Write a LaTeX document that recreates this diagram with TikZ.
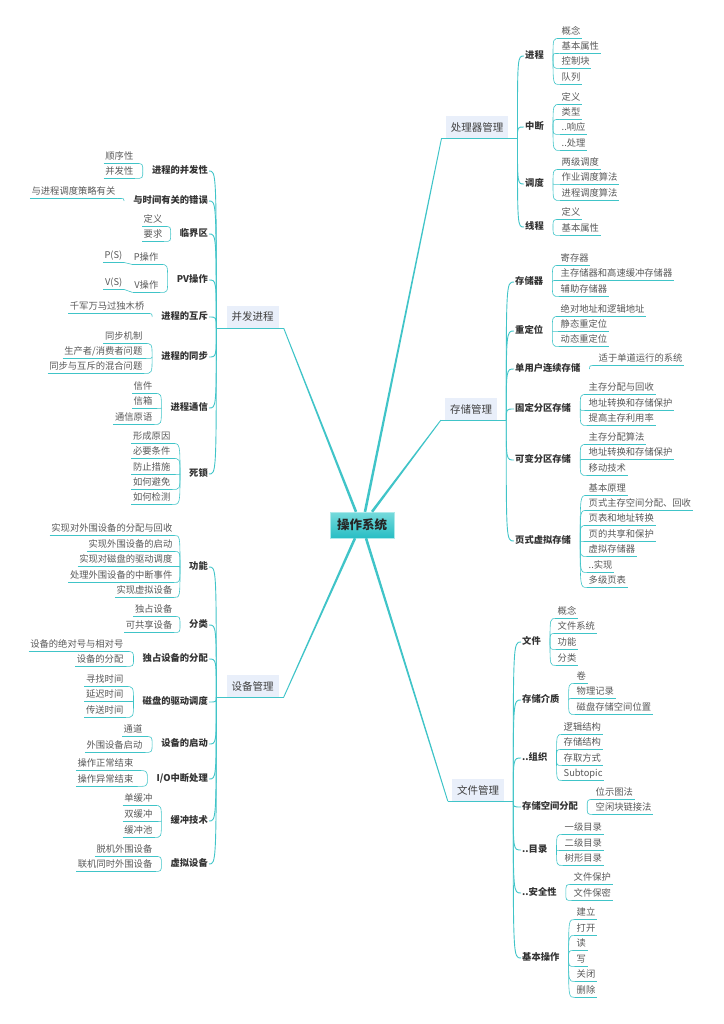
\documentclass[tikz,border=0pt]{standalone}
\usepackage{fontspec}
\setmainfont{Noto Sans CJK SC}
\usetikzlibrary{calc}

\definecolor{mapline}{RGB}{64,196,200}
\definecolor{mainfill}{RGB}{233,239,250}
\definecolor{osTop}{RGB}{118,218,220}
\definecolor{osBot}{RGB}{40,190,196}
\definecolor{leafgray}{RGB}{88,88,88}

% leaves hanging off a subtopic, right hand side and left hand side
\newcommand\rleaves[3]{%
  \coordinate (#1-j) at ($(#1.east)+(8,0)$);
  \foreach \txt/\y [count=\i] in {#3}{%
    \node[leaf,anchor=west] (#1-\i) at (#2,\y) {\txt};
    \draw[twig] (#1-j) .. controls (#1-j |- #1-\i.south west) .. (#1-\i.south west);
  }}
\newcommand\lleaves[3]{%
  \coordinate (#1-j) at ($(#1.west)+(-8,0)$);
  \foreach \txt/\y [count=\i] in {#3}{%
    \node[leaf,anchor=east] (#1-\i) at (#2,\y) {\txt};
    \draw[twig] (#1-j) .. controls (#1-j |- #1-\i.south east) .. (#1-\i.south east);
  }}
% tapered line from the root
\newcommand\taper[2]{%
  \fill[mapline] ($(#1)!1.3pt!90:(#2)$) -- ($(#2)!0.45pt!-90:(#1)$)
    -- ($(#2)!0.45pt!90:(#1)$) -- ($(#1)!1.3pt!-90:(#2)$) -- cycle;}

\begin{document}
\begin{tikzpicture}[x=1pt,y=-1pt,
  branch/.style={draw=mapline,line width=0.9pt},
  twig/.style={draw=mapline,line width=0.6pt},
  leaf/.style={font=\fontsize{9.3}{11}\selectfont,text=leafgray,inner xsep=1.5pt,inner ysep=1.5pt,
    text height=7.6pt,text depth=1.9pt,
    append after command={(\tikzlastnode.south west) edge[twig] (\tikzlastnode.south east)}},
  subtopic/.style={font=\bfseries\fontsize{9.3}{11}\selectfont,text=black!80,inner sep=1pt,
    text height=7.6pt,text depth=1.9pt},
  maintopic/.style={fill=mainfill,font=\fontsize{10.5}{12}\selectfont,text=black!75,
    inner xsep=5pt,inner ysep=0pt,minimum height=22pt},
  root/.style={top color=osTop,bottom color=osBot,draw=osTop!60!white,
    font=\bfseries\fontsize{12.5}{14}\selectfont,text=black!85,minimum width=64pt,minimum height=26pt}]
  \useasboundingbox (0,0) rectangle (723,1024);

  % main topics
  \node[root] (os) at (362,525) {操作系统};
  \node[maintopic] (cpu) at (477,127) {处理器管理};
  \node[maintopic] (mem) at (471,409) {存储管理};
  \node[maintopic] (file) at (478,790) {文件管理};
  \node[maintopic] (bf) at (252.5,317) {并发进程};
  \node[maintopic] (dev) at (252.5,686) {设备管理};
  \foreach \n in {cpu,mem,file}{
    \coordinate (\n-l) at ($(\n.south west)+(-4,0)$);
    \coordinate (\n-r) at ($(\n.south east)+(9,0)$);
    \draw[branch] (\n-l) -- (\n-r);
  }
  \foreach \n in {bf,dev}{
    \coordinate (\n-l) at ($(\n.south west)+(-10,0)$);
    \coordinate (\n-r) at ($(\n.south east)+(5,0)$);
    \draw[branch] (\n-l) -- (\n-r);
  }
  \coordinate (os-bf) at ($(os.north)+(-6,0)$);
  \coordinate (os-cpu) at ($(os.north)+(3,0)$);
  \coordinate (os-mem) at ($(os.north)+(10,0)$);
  \coordinate (os-dev) at ($(os.south)+(-7,0)$);
  \coordinate (os-file) at ($(os.south)+(4,0)$);
  \taper{os-bf}{bf-r}
  \taper{os-cpu}{cpu-l}
  \taper{os-mem}{mem-l}
  \taper{os-dev}{dev-r}
  \taper{os-file}{file-l}

  % processor
  \node[subtopic,anchor=west] (jc) at (524,56) {进程};
  \node[subtopic,anchor=west] (zd) at (524,127) {中断};
  \node[subtopic,anchor=west] (dd) at (524,184) {调度};
  \node[subtopic,anchor=west] (xc) at (524,227) {线程};
  \foreach \n in {jc,zd,dd,xc}
    \draw[branch] (cpu-r) .. controls (cpu-r |- \n.west) .. (\n.west);
  \rleaves{jc}{560}{概念/32,基本属性/47,控制块/62,队列/78}
  \rleaves{zd}{560}{定义/98,类型/113,..响应/128,..处理/144}
  \rleaves{dd}{560}{两级调度/163,作业调度算法/178,进程调度算法/194}
  \rleaves{xc}{560}{定义/213,基本属性/229}

  % memory
  \node[subtopic,anchor=west] (ccq) at (514,282) {存储器};
  \node[subtopic,anchor=west] (cdw) at (514,331) {重定位};
  \node[subtopic,anchor=west] (dyh) at (514,369) {单用户连续存储};
  \node[subtopic,anchor=west] (gdf) at (514,409) {固定分区存储};
  \node[subtopic,anchor=west] (kbf) at (514,460) {可变分区存储};
  \node[subtopic,anchor=west] (ysx) at (514,541) {页式虚拟存储};
  \foreach \n in {ccq,cdw,dyh,gdf,kbf,ysx}
    \draw[branch] (mem-r) .. controls (mem-r |- \n.west) .. (\n.west);
  \rleaves{ccq}{559}{寄存器/259,主存储器和高速缓冲存储器/274,辅助存储器/290}
  \rleaves{cdw}{559}{绝对地址和逻辑地址/310,静态重定位/325,动态重定位/340}
  \rleaves{dyh}{597}{适于单道运行的系统/359}
  \rleaves{gdf}{587}{主存分配与回收/388,地址转换和存储保护/404,提高主存利用率/419}
  \rleaves{kbf}{587}{主存分配算法/438,地址转换和存储保护/453,移动技术/469}
  \rleaves{ysx}{587}{基本原理/489,页式主存空间分配、回收/504,页表和地址转换/519,页的共享和保护/535,虚拟存储器/550,..实现/566,多级页表/581}

  % files
  \node[subtopic,anchor=west] (wj) at (521,642) {文件};
  \node[subtopic,anchor=west] (jz) at (521,700) {存储介质};
  \node[subtopic,anchor=west] (zz) at (521,758) {..组织};
  \node[subtopic,anchor=west] (fp) at (521,807) {存储空间分配};
  \node[subtopic,anchor=west] (ml) at (521,850) {..目录};
  \node[subtopic,anchor=west] (aq) at (521,893) {..安全性};
  \node[subtopic,anchor=west] (cz) at (521,958) {基本操作};
  \foreach \n in {wj,jz,zz,fp,ml,aq,cz}
    \draw[branch] (file-r) .. controls (file-r |- \n.west) .. (\n.west);
  \rleaves{wj}{556}{概念/612,文件系统/627,功能/643,分类/659}
  \rleaves{jz}{575}{卷/677,物理记录/692,磁盘存储空间位置/708}
  \rleaves{zz}{562}{逻辑结构/728,存储结构/743,存取方式/759,Subtopic/774}
  \rleaves{fp}{594}{位示图法/793,空闲块链接法/808}
  \rleaves{ml}{563}{一级目录/828,二级目录/844,树形目录/859}
  \rleaves{aq}{572}{文件保护/878,文件保密/894}
  \rleaves{cz}{575}{建立/913,打开/929,读/944,写/960,关闭/975,删除/991}

  % concurrent processes
  \node[subtopic,anchor=east] (bfx) at (209,171) {进程的并发性};
  \node[subtopic,anchor=east] (sjc) at (209,201) {与时间有关的错误};
  \node[subtopic,anchor=east] (ljq) at (209,234) {临界区};
  \node[subtopic,anchor=east] (pv) at (209,280) {PV操作};
  \node[subtopic,anchor=east] (hc) at (209,317) {进程的互斥};
  \node[subtopic,anchor=east] (tb) at (209,357) {进程的同步};
  \node[subtopic,anchor=east] (tx) at (209,408) {进程通信};
  \node[subtopic,anchor=east] (sis) at (209,474) {死锁};
  \foreach \n in {bfx,sjc,ljq,pv,hc,tb,tx,sis}
    \draw[branch] (bf-l) .. controls (bf-l |- \n.east) .. (\n.east);
  \lleaves{bfx}{135}{顺序性/157,并发性/172}
  \lleaves{sjc}{117}{与进程调度策略有关/192}
  \lleaves{ljq}{164}{定义/220,要求/235}
  \lleaves{pv}{160}{P操作/258,V操作/286}
  \node[leaf,anchor=east] (ps) at (124,256) {P(S)};
  \node[leaf,anchor=east] (vs) at (124,283) {V(S)};
  \draw[twig] (pv-1.south west) -- (ps.south east);
  \draw[twig] (pv-2.south west) -- (vs.south east);
  \lleaves{hc}{146}{千军万马过独木桥/307}
  \lleaves{tb}{144}{同步机制/337,{生产者/消费者问题}/352,同步与互斥的混合问题/367}
  \lleaves{tx}{154}{信件/387,信箱/402,通信原语/418}
  \lleaves{sis}{172}{形成原因/437,必要条件/452,防止措施/468,如何避免/483,如何检测/498}

  % devices
  \node[subtopic,anchor=east] (gn) at (209,567) {功能};
  \node[subtopic,anchor=east] (fl) at (209,625) {分类};
  \node[subtopic,anchor=east] (dzf) at (209,659) {独占设备的分配};
  \node[subtopic,anchor=east] (qd) at (209,702) {磁盘的驱动调度};
  \node[subtopic,anchor=east] (sbqd) at (209,744) {设备的启动};
  \node[subtopic,anchor=east] (io) at (209,779) {I/O中断处理};
  \node[subtopic,anchor=east] (hcjs) at (209,821) {缓冲技术};
  \node[subtopic,anchor=east] (xn) at (209,864) {虚拟设备};
  \foreach \n in {gn,fl,dzf,qd,sbqd,io,hcjs,xn}
    \draw[branch] (dev-l) .. controls (dev-l |- \n.east) .. (\n.east);
  \lleaves{gn}{174}{实现对外围设备的分配与回收/529,实现外围设备的启动/545,实现对磁盘的驱动调度/560,处理外围设备的中断事件/576,实现虚拟设备/591}
  \lleaves{fl}{174}{独占设备/610,可共享设备/626}
  \lleaves{dzf}{125}{设备的绝对号与相对号/645,设备的分配/660}
  \lleaves{qd}{125}{寻找时间/680,延迟时间/695,传送时间/711}
  \lleaves{sbqd}{144}{通道/730,外围设备启动/746}
  \lleaves{io}{135}{操作正常结束/764,操作异常结束/780}
  \lleaves{hcjs}{154}{单缓冲/799,双缓冲/815,缓冲池/831}
  \lleaves{xn}{154}{脱机外围设备/850,联机同时外围设备/865}
\end{tikzpicture}
\end{document}
